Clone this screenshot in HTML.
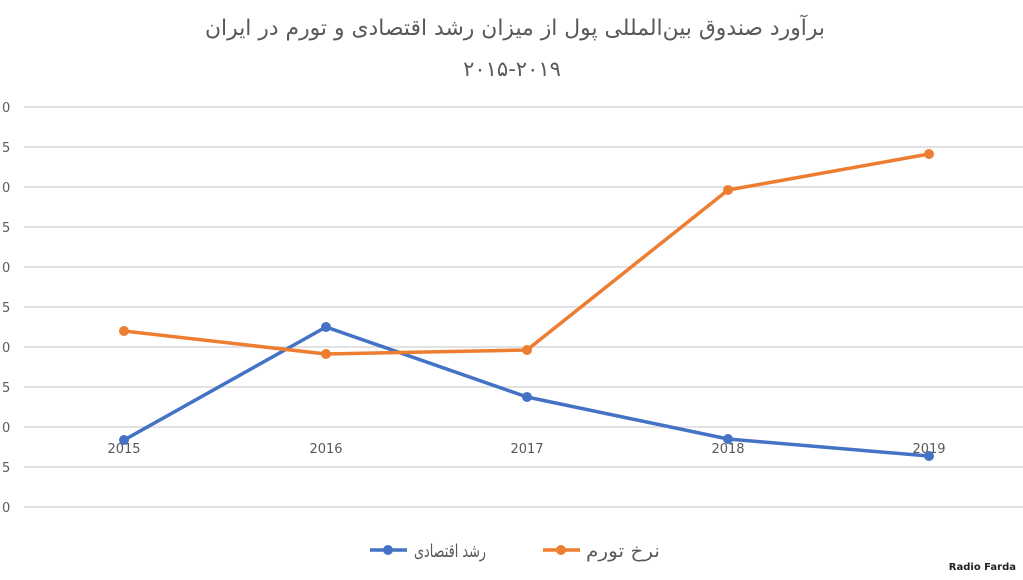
<!DOCTYPE html>
<html><head><meta charset="utf-8"><style>
body{margin:0;background:#fff;width:1023px;height:575px;overflow:hidden}
text{font-family:"DejaVu Sans","Liberation Sans",sans-serif}
</style></head><body>
<svg width="1023" height="575" xmlns="http://www.w3.org/2000/svg">
<rect width="1023" height="575" fill="#fff"/>
<text x="515" y="35" text-anchor="middle" font-size="22" fill="#595959" textLength="620" lengthAdjust="spacingAndGlyphs">برآورد صندوق بین‌المللی پول از میزان رشد اقتصادی و تورم در ایران</text>
<text x="512" y="76" text-anchor="middle" font-size="21" fill="#595959">۲۰۱۵-۲۰۱۹</text>
<g stroke="#d9d9d9" stroke-width="1.5">
<line x1="24" x2="1023" y1="107" y2="107"/><line x1="24" x2="1023" y1="147" y2="147"/>
<line x1="24" x2="1023" y1="187" y2="187"/><line x1="24" x2="1023" y1="227" y2="227"/>
<line x1="24" x2="1023" y1="267" y2="267"/><line x1="24" x2="1023" y1="307" y2="307"/>
<line x1="24" x2="1023" y1="347" y2="347"/><line x1="24" x2="1023" y1="387" y2="387"/>
<line x1="24" x2="1023" y1="427" y2="427"/><line x1="24" x2="1023" y1="467" y2="467"/>
<line x1="24" x2="1023" y1="507" y2="507"/>
</g>
<g font-size="13" fill="#595959" font-family="Liberation Sans">
<text x="2" y="112">0</text><text x="2" y="152">5</text><text x="2" y="192">0</text><text x="2" y="232">5</text>
<text x="2" y="272">0</text><text x="2" y="312">5</text><text x="2" y="352">0</text><text x="2" y="392">5</text>
<text x="2" y="432">0</text><text x="2" y="472">5</text><text x="2" y="512">0</text>
</g>
<g font-size="13" fill="#595959" text-anchor="middle" font-family="Liberation Sans">
<text x="124" y="453">2015</text><text x="326" y="453">2016</text><text x="527" y="453">2017</text><text x="728" y="453">2018</text><text x="929" y="453">2019</text>
</g>
<polyline points="124,440 326,327 527,397 728,439 929,456" fill="none" stroke="#4472c4" stroke-width="3.5" stroke-linejoin="round"/>
<polyline points="124,331 326,354 527,350 728,190 929,154" fill="none" stroke="#ed7d31" stroke-width="3.5" stroke-linejoin="round"/>
<g fill="#4472c4"><circle cx="124" cy="440" r="5"/><circle cx="326" cy="327" r="5"/><circle cx="527" cy="397" r="5"/><circle cx="728" cy="439" r="5"/><circle cx="929" cy="456" r="5"/></g>
<g fill="#ed7d31"><circle cx="124" cy="331" r="5"/><circle cx="326" cy="354" r="5"/><circle cx="527" cy="350" r="5"/><circle cx="728" cy="190" r="5"/><circle cx="929" cy="154" r="5"/></g>
<line x1="370" x2="407" y1="550" y2="550" stroke="#4472c4" stroke-width="3.5"/><circle cx="388" cy="550" r="5" fill="#4472c4"/>
<text x="486" y="557" text-anchor="end" font-size="18" fill="#595959" textLength="72" lengthAdjust="spacingAndGlyphs">رشد اقتصادی</text>
<line x1="543" x2="580" y1="550" y2="550" stroke="#ed7d31" stroke-width="3.5"/><circle cx="561" cy="550" r="5" fill="#ed7d31"/>
<text x="660" y="557" text-anchor="end" font-size="18" fill="#595959" textLength="74" lengthAdjust="spacingAndGlyphs">نرخ تورم</text>
<text x="1016" y="570" text-anchor="end" font-size="10" font-weight="bold" fill="#222" font-family="Liberation Sans">Radio Farda</text>
</svg>
</body></html>
